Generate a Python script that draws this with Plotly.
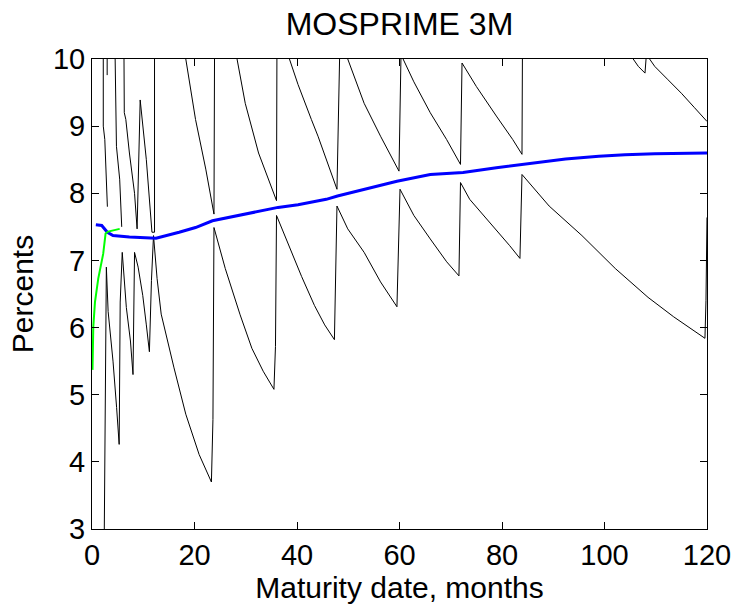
import plotly.graph_objects as go

# ---------------- data ----------------
x_ticks = [0, 20, 40, 60, 80, 100, 120]
y_ticks = [3, 4, 5, 6, 7, 8, 9, 10]

# zero curve (blue)
zero_x = [0.75, 1.9, 3.0, 4.1, 7.3, 12.5, 17.0, 20.2, 23.5, 28.6, 36.3, 40.2, 45.7,
          47.9, 59.5, 66.0, 72.4, 78.9, 84.0, 88.5, 92.4, 98.9, 104.0, 109.8, 115.0, 120.0]
zero_y = [7.53, 7.52, 7.42, 7.37, 7.35, 7.33, 7.42, 7.49, 7.59, 7.67, 7.79, 7.83, 7.91,
          7.96, 8.18, 8.28, 8.31, 8.38, 8.43, 8.48, 8.51, 8.55, 8.575, 8.59, 8.60, 8.60]

# money-market part (green)
mm_x = [0.1, 0.2, 0.25, 0.58, 1.22, 2.19, 2.65, 3.15, 5.4]
mm_y = [5.37, 5.8, 6.01, 6.38, 6.73, 7.10, 7.40, 7.43, 7.47]

# forward curve (black) - lower saw-tooth chain
fwd_low_x = [2.35, 2.6, 2.8, 3.15, 4.1, 4.8, 5.3, 5.5, 5.9, 6.7, 7.5, 8.0, 8.3, 9.0, 9.9,
             10.6, 11.2, 11.6, 12.0, 12.7, 13.5, 16.0, 18.3, 20.9, 23.3, 23.6, 23.8,
             26.0, 28.9, 31.2, 33.4, 35.5, 35.8, 36.0, 37.6, 40.9, 43.4, 45.4, 47.3, 47.8,
             49.9, 53.1, 56.3, 59.5, 60.1, 62.8, 66.0, 69.2, 71.6, 71.9, 73.7, 77.6, 81.5,
             83.5, 83.9, 89.2, 95.6, 102.1, 108.5, 113.5, 119.6, 119.8, 120.0]
fwd_low_y = [2.5, 4.9, 6.9, 6.24, 5.5, 4.81, 4.26, 6.38, 7.12, 6.3, 5.8, 5.3, 7.12, 6.9, 6.48,
             6.04, 5.64, 6.7, 7.37, 6.73, 6.2, 5.40, 4.71, 4.11, 3.70, 4.63, 7.49,
             6.88, 6.19, 5.69, 5.35, 5.08, 5.72, 7.67, 7.37, 6.76, 6.33, 6.04, 5.82, 7.81,
             7.47, 7.12, 6.68, 6.31, 8.06, 7.67, 7.32, 6.98, 6.77, 8.16, 7.91, 7.57, 7.22,
             7.03, 8.28, 7.81, 7.37, 6.88, 6.45, 6.16, 5.84, 6.4, 7.64]

# forward curve (black) - upper saw-tooth chain
fwd_up_x = [6.2, 6.3, 6.6, 7.3, 8.3, 8.8, 9.4, 10.6, 11.7, 12.2, 12.2, 18.3, 20.2, 22.2,
            23.8, 24.0, 28.3, 29.9, 32.5, 34.4, 36.0, 36.1, 38.6, 40.2, 42.8, 44.1, 47.8,
            48.4, 49.9, 53.1, 56.3, 59.9, 60.3, 60.7, 62.8, 66.0, 69.2, 71.9, 72.2, 75.0,
            78.9, 82.1, 83.9, 84.1, 105.6, 106.6, 107.9, 108.3, 108.8, 109.8, 112.4, 115.0,
            117.5, 120.0]
fwd_up_y = [10.6, 9.2, 9.1, 8.6, 8.0, 7.47, 9.39, 8.5, 7.42, 7.42, 13.5, 10.0, 9.10, 8.36,
            7.69, 12.0, 10.0, 9.34, 8.60, 8.21, 7.89, 10.55, 10.0, 9.62, 9.10, 8.85, 8.06,
            10.35, 10.0, 9.34, 8.85, 8.33, 10.1, 10.0, 9.66, 9.20, 8.80, 8.43, 9.94, 9.59,
            9.15, 8.80, 8.58, 12.0, 10.0, 9.89, 9.79, 10.2, 10.0, 9.89, 9.69, 9.49,
            9.28, 9.07]

# forward curve (black) - short early pieces
fwd_e1_x = [2.2, 2.2, 2.5, 2.8, 3.0]
fwd_e1_y = [10.6, 9.0, 8.8, 8.0, 7.8]
fwd_e2_x = [2.96, 2.96]
fwd_e2_y = [10.6, 9.76]
fwd_e3_x = [4.4, 4.5, 4.77, 5.4, 5.7, 5.8]
fwd_e3_y = [10.6, 10.0, 8.7, 8.21, 7.62, 7.5]

# ---------------- figure ----------------
def join(*segs):
    xs, ys = [], []
    for sx, sy in segs:
        if xs:
            xs.append(None)
            ys.append(None)
        xs.extend(sx)
        ys.extend(sy)
    return xs, ys

bx, by = join((fwd_low_x, fwd_low_y), (fwd_up_x, fwd_up_y),
              (fwd_e1_x, fwd_e1_y), (fwd_e2_x, fwd_e2_y), (fwd_e3_x, fwd_e3_y))

fig = go.Figure()
fig.add_trace(go.Scatter(x=bx, y=by, mode="lines", line=dict(color="black", width=1),
                         connectgaps=False, showlegend=False))
fig.add_trace(go.Scatter(x=zero_x, y=zero_y, mode="lines", line=dict(color="#0000FF", width=3),
                         showlegend=False))
fig.add_trace(go.Scatter(x=mm_x, y=mm_y, mode="lines", line=dict(color="#00FF00", width=2),
                         showlegend=False))

font_family = "Liberation Sans, Arial, sans-serif"
axis_common = dict(showline=True, linecolor="black", linewidth=1, mirror="ticks",
                   ticks="inside", ticklen=7, tickcolor="black", tickwidth=1,
                   showgrid=False, zeroline=False,
                   tickfont=dict(family=font_family, size=29, color="black"))

fig.update_layout(
    width=743, height=606,
    margin=dict(l=92, r=29, t=59, b=74, pad=0),
    paper_bgcolor="white", plot_bgcolor="white",
    title=dict(text="MOSPRIME 3M", x=0.5, xref="paper", xanchor="center",
               y=1 - 24 / 606, yref="container", yanchor="middle",
               font=dict(family=font_family, size=32, color="black")),
    xaxis=dict(range=[0, 120], tickvals=x_ticks, **axis_common,
               title=dict(text="Maturity date, months", standoff=2,
                          font=dict(family=font_family, size=30, color="black"))),
    yaxis=dict(range=[3, 10], tickvals=y_ticks, **axis_common,
               title=dict(text="Percents", standoff=10,
                          font=dict(family=font_family, size=30, color="black"))),
)

fig.write_html("out.html")
